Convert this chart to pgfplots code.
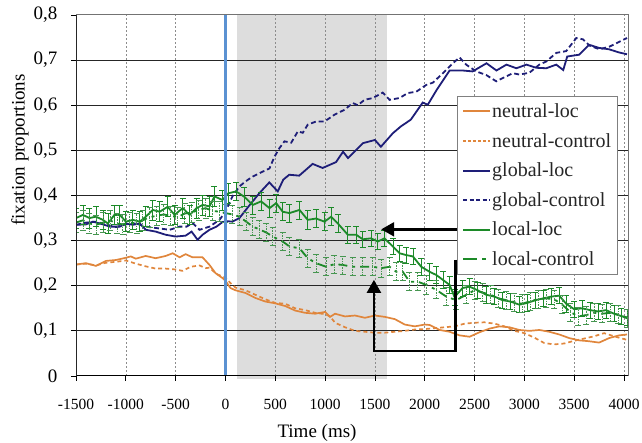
\documentclass[border=0pt]{standalone}
\usepackage{fontspec}
\setmainfont{Liberation Serif}
\usepackage{pgfplots}
\usepackage{pgfplotstable}
\pgfplotsset{compat=1.18}
\usetikzlibrary{arrows.meta}

\definecolor{orangeC}{RGB}{224,134,60}
\definecolor{navyC}{RGB}{30,30,120}
\definecolor{greenC}{RGB}{28,138,40}
\definecolor{greenL}{RGB}{70,150,80}
\definecolor{blueC}{RGB}{91,146,210}
\definecolor{shadeC}{RGB}{221,221,221}

\pgfplotstableread{
x y
-1500 0.247
-1400 0.250
-1300 0.244
-1200 0.255
-1100 0.257
-1000 0.262
-950 0.265
-900 0.260
-800 0.266
-700 0.261
-600 0.266
-530 0.272
-460 0.263
-400 0.270
-330 0.263
-230 0.263
-160 0.246
-100 0.228
-30 0.217
0 0.211
50 0.195
100 0.190
200 0.184
300 0.173
400 0.165
500 0.161
600 0.155
700 0.145
800 0.140
900 0.138
1000 0.142
1050 0.131
1100 0.138
1200 0.132
1300 0.134
1400 0.129
1500 0.134
1600 0.131
1700 0.126
1800 0.114
1900 0.110
2000 0.114
2050 0.113
2150 0.102
2250 0.098
2350 0.090
2450 0.087
2550 0.097
2650 0.105
2750 0.110
2850 0.108
2950 0.102
3050 0.100
3150 0.102
3250 0.098
3350 0.092
3450 0.084
3550 0.079
3650 0.077
3750 0.074
3850 0.084
3950 0.090
4030 0.092
}\neutralloc

\pgfplotstableread{
x y
-1500 0.247
-1400 0.249
-1300 0.245
-1200 0.251
-1100 0.253
-1000 0.256
-900 0.249
-800 0.243
-700 0.238
-600 0.238
-500 0.236
-430 0.233
-350 0.242
-260 0.245
-200 0.239
-160 0.240
-90 0.226
0 0.218
50 0.206
100 0.196
200 0.190
300 0.180
400 0.170
500 0.162
600 0.160
700 0.150
800 0.146
900 0.140
1000 0.137
1050 0.132
1100 0.118
1200 0.108
1300 0.100
1400 0.098
1500 0.096
1600 0.096
1700 0.098
1800 0.100
1900 0.103
2000 0.104
2100 0.106
2200 0.108
2300 0.110
2400 0.116
2500 0.118
2600 0.119
2700 0.116
2800 0.110
2900 0.100
3000 0.095
3100 0.085
3200 0.073
3300 0.070
3400 0.072
3500 0.078
3600 0.083
3700 0.088
3800 0.095
3900 0.088
4030 0.080
}\neutralcontrol

\pgfplotstableread{
x y
-1500 0.335
-1400 0.336
-1330 0.342
-1230 0.336
-1160 0.331
-1060 0.331
-1000 0.338
-930 0.335
-860 0.338
-800 0.324
-700 0.320
-600 0.313
-500 0.309
-400 0.311
-340 0.320
-280 0.302
-230 0.313
-160 0.324
-90 0.331
-30 0.341
20 0.343
70 0.342
140 0.350
240 0.378
340 0.405
440 0.429
525 0.409
580 0.435
640 0.446
740 0.444
875 0.470
975 0.461
1110 0.474
1180 0.497
1230 0.483
1380 0.516
1500 0.523
1560 0.508
1680 0.538
1760 0.553
1860 0.568
1980 0.606
2030 0.601
2120 0.634
2250 0.677
2380 0.677
2480 0.675
2620 0.693
2720 0.677
2820 0.690
2920 0.682
3020 0.690
3120 0.683
3220 0.682
3320 0.690
3390 0.678
3430 0.708
3550 0.712
3650 0.734
3750 0.727
3850 0.724
3950 0.717
4030 0.713
}\globalloc

\pgfplotstableread{
x y
-1500 0.335
-1400 0.340
-1300 0.342
-1200 0.336
-1100 0.330
-1000 0.336
-900 0.338
-800 0.331
-700 0.328
-560 0.324
-460 0.331
-390 0.331
-330 0.339
-260 0.324
-160 0.331
-60 0.346
0 0.364
70 0.398
140 0.420
200 0.431
274 0.442
375 0.453
442 0.460
492 0.486
542 0.505
592 0.520
660 0.517
726 0.542
776 0.539
826 0.557
910 0.564
994 0.564
1094 0.579
1195 0.590
1278 0.605
1328 0.600
1396 0.612
1479 0.616
1579 0.628
1647 0.612
1747 0.616
1830 0.627
1915 0.630
2015 0.645
2081 0.650
2182 0.671
2282 0.693
2349 0.706
2416 0.690
2517 0.675
2617 0.667
2718 0.653
2818 0.664
2884 0.671
2950 0.668
3050 0.672
3150 0.690
3220 0.697
3320 0.716
3420 0.720
3521 0.749
3588 0.746
3655 0.732
3755 0.724
3855 0.730
3956 0.741
4030 0.749
}\globalcontrol

\pgfplotstableread{
x y e
-1500 0.350 0.022
-1430 0.357 0.022
-1365 0.350 0.022
-1300 0.353 0.022
-1230 0.346 0.022
-1180 0.338 0.022
-1115 0.357 0.022
-1060 0.357 0.022
-1000 0.342 0.022
-930 0.346 0.022
-860 0.342 0.022
-800 0.353 0.022
-730 0.368 0.022
-660 0.364 0.022
-580 0.375 0.022
-510 0.357 0.022
-430 0.372 0.022
-360 0.357 0.022
-290 0.372 0.022
-230 0.379 0.022
-160 0.376 0.022
-110 0.398 0.022
-30 0.390 0.022
30 0.405 0.022
107 0.409 0.020
190 0.397 0.020
274 0.379 0.020
358 0.387 0.020
442 0.372 0.020
509 0.383 0.020
575 0.364 0.020
642 0.361 0.020
743 0.368 0.020
826 0.346 0.020
910 0.349 0.020
994 0.342 0.020
1061 0.353 0.020
1128 0.338 0.020
1228 0.313 0.018
1312 0.313 0.018
1378 0.303 0.018
1462 0.305 0.018
1529 0.298 0.018
1596 0.305 0.018
1680 0.287 0.018
1747 0.272 0.018
1814 0.268 0.018
1881 0.265 0.018
1965 0.242 0.018
2048 0.231 0.018
2115 0.224 0.018
2182 0.213 0.018
2249 0.202 0.018
2299 0.175 0.018
2380 0.195 0.018
2450 0.198 0.018
2530 0.190 0.018
2617 0.180 0.018
2700 0.176 0.018
2780 0.168 0.018
2860 0.165 0.018
2950 0.158 0.018
3030 0.162 0.018
3110 0.168 0.018
3190 0.172 0.018
3270 0.176 0.018
3350 0.178 0.018
3420 0.160 0.018
3500 0.148 0.018
3580 0.150 0.018
3660 0.146 0.018
3740 0.143 0.018
3820 0.146 0.018
3900 0.138 0.018
3970 0.133 0.018
4030 0.130 0.018
}\localloc

\pgfplotstableread{
x y e
-1500 0.340 0.022
-1430 0.345 0.022
-1365 0.338 0.022
-1300 0.335 0.022
-1230 0.340 0.022
-1160 0.345 0.022
-1090 0.338 0.022
-1030 0.336 0.022
-960 0.340 0.022
-890 0.338 0.022
-830 0.345 0.022
-760 0.352 0.022
-690 0.355 0.022
-620 0.358 0.022
-550 0.355 0.022
-480 0.352 0.022
-410 0.360 0.022
-340 0.362 0.022
-270 0.368 0.022
-200 0.372 0.022
-130 0.366 0.022
-60 0.364 0.022
0 0.361 0.020
70 0.358 0.020
141 0.353 0.020
208 0.342 0.020
274 0.331 0.020
340 0.325 0.020
409 0.318 0.020
475 0.309 0.020
575 0.298 0.020
642 0.287 0.020
743 0.283 0.020
826 0.261 0.020
910 0.250 0.020
1011 0.242 0.020
1094 0.248 0.020
1178 0.246 0.020
1278 0.242 0.020
1378 0.242 0.020
1479 0.242 0.020
1563 0.239 0.020
1647 0.242 0.020
1714 0.231 0.020
1780 0.231 0.020
1847 0.209 0.020
1930 0.209 0.020
2015 0.202 0.020
2115 0.191 0.020
2216 0.176 0.020
2316 0.168 0.020
2416 0.180 0.020
2500 0.190 0.020
2580 0.185 0.020
2660 0.180 0.020
2740 0.172 0.020
2820 0.168 0.020
2900 0.164 0.020
2980 0.160 0.020
3060 0.166 0.020
3140 0.170 0.020
3220 0.172 0.020
3300 0.170 0.020
3380 0.158 0.020
3460 0.142 0.020
3540 0.132 0.020
3620 0.135 0.020
3700 0.140 0.020
3780 0.138 0.020
3860 0.140 0.020
3940 0.136 0.020
4030 0.128 0.020
}\localcontrol

\begin{document}
\begin{tikzpicture}
\begin{axis}[
  at={(0pt,0pt)}, anchor=south west,
  scale only axis, width=552pt, height=361pt,
  xmin=-1500, xmax=4040, ymin=0, ymax=0.8,
  set layers,
  xtick={-1500,-1000,-500,0,500,1000,1500,2000,2500,3000,3500,4000},
  xticklabels={-1500,-1000,-500,0,500,1000,1500,2000,2500,3000,3500,4000},
  ytick={0,0.1,0.2,0.3,0.4,0.5,0.6,0.7,0.8},
  yticklabels={0,{0,1},{0,2},{0,3},{0,4},{0,5},{0,6},{0,7},{0,8}},
  xmajorgrids, ymajorgrids,
  x grid style={black!45, line width=0.6pt, dash pattern=on 2pt off 2pt},
  y grid style={black!85, line width=1pt},
  axis line style={black!55, line width=1pt},
  tick align=outside, tick pos=left, major tick length=5pt,
  tick style={black, line width=0.8pt},
  yticklabel style={font=\fontsize{19}{22}\selectfont, xshift=-10pt},
  xticklabel style={font=\fontsize{15.5}{18}\selectfont, yshift=-15pt},
  every axis x label/.style={at={(axis description cs:0.4366,-0.158)}, anchor=center},
  every axis y label/.style={at={(axis description cs:-0.1015,0.626)}, anchor=center, rotate=90},
  xlabel={Time (ms)},
  ylabel={fixation proportions},
  label style={font=\fontsize{19}{22}\selectfont},
  legend style={at={(rel axis cs:0.69,0.776)}, anchor=north west,
    draw=black!50, line width=0.7pt, fill=white,
    font=\fontsize{20}{22}\selectfont, text=black!85,
    row sep=12.2pt, inner xsep=5pt, inner ysep=6.5pt,
    nodes={inner xsep=1pt, inner ysep=1pt}},
  legend cell align=left,
  legend image code/.code={\draw[#1] (0pt,0pt) -- (27pt,0pt);},
]
\begin{pgfonlayer}{axis background}
  \fill[shadeC] (axis cs:120,-0.006) rectangle (axis cs:1620,0.8);
\end{pgfonlayer}

\addlegendimage{orangeC, line width=2pt}
\addlegendentry{neutral-loc}
\addlegendimage{orangeC, line width=2pt, dash pattern=on 3pt off 2pt}
\addlegendentry{neutral-control}
\addlegendimage{navyC, line width=2pt}
\addlegendentry{global-loc}
\addlegendimage{navyC, line width=2pt, dash pattern=on 4pt off 2.5pt}
\addlegendentry{global-control}
\addlegendimage{greenC, line width=2pt}
\addlegendentry{local-loc}
\addlegendimage{greenC, line width=2pt, dash pattern=on 14pt off 5pt on 4pt off 5pt}
\addlegendentry{local-control}

\addplot[forget plot, orangeC, line width=1.7pt] table[x=x,y=y] {\neutralloc};
\addplot[forget plot, orangeC, line width=1.7pt, dash pattern=on 4pt off 3pt] table[x=x,y=y] {\neutralcontrol};
\addplot[forget plot, navyC, line width=1.8pt] table[x=x,y=y] {\globalloc};
\addplot[forget plot, navyC, line width=1.8pt, dash pattern=on 5pt off 3pt] table[x=x,y=y] {\globalcontrol};
\addplot[forget plot, greenC, line width=1.8pt,
  error bars/.cd, y dir=both, y explicit,
  error bar style={line width=0.7pt, solid, greenC},
  error mark options={rotate=90, mark size=3pt, line width=0.7pt, solid, greenC}]
  table[x=x,y=y,y error=e] {\localloc};
\addplot[forget plot, greenC, line width=1.8pt, dash pattern=on 9pt off 5pt on 3pt off 5pt,
  error bars/.cd, y dir=both, y explicit,
  error bar style={line width=0.7pt, greenL, dash pattern=on 1.5pt off 1pt},
  error mark options={rotate=90, mark size=3pt, line width=0.7pt, solid, greenL}]
  table[x=x,y=y,y error=e] {\localcontrol};

\draw[blueC, line width=2.3pt] (axis cs:0,0) -- (axis cs:0,0.8);
\draw[black, line width=1pt] (rel axis cs:0,0) -- (rel axis cs:1,0);
\draw[black!85, line width=1pt] (rel axis cs:0,0) -- (rel axis cs:0,1);

\draw[black, line width=2.4pt, -{Triangle[length=13pt,width=14pt]}]
  (axis cs:2330,0.325) -- (axis cs:1563,0.325);
\draw[black, line width=2.4pt, line join=miter, -{Triangle[length=13pt,width=14pt]}]
  (axis cs:2309,0.258) -- (axis cs:2309,0.055) -- (axis cs:1490,0.055) -- (axis cs:1490,0.213);
\end{axis}
\pgfresetboundingbox
\path (-76pt,-67pt) rectangle (566pt,376pt);
\end{tikzpicture}
\end{document}
